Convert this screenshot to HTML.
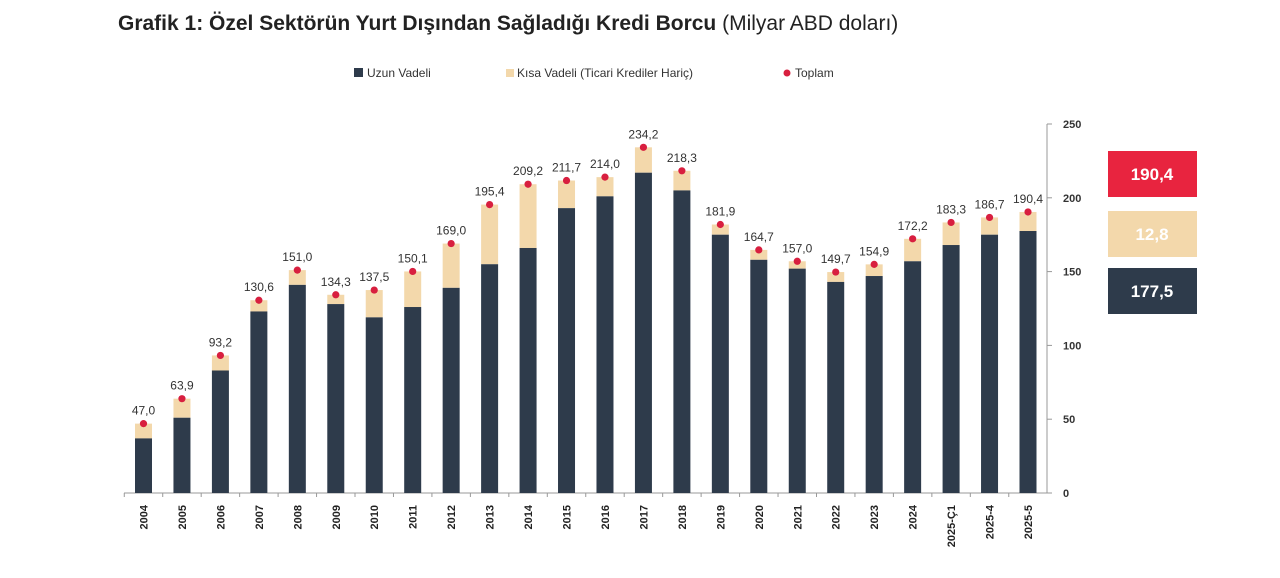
<!DOCTYPE html>
<html><head><meta charset="utf-8">
<style>
body{margin:0;background:#fff;width:1280px;height:578px;overflow:hidden;font-family:"Liberation Sans",sans-serif}
svg{position:absolute;left:0;top:0}
</style></head>
<body>
<svg width="1280" height="578" id="chart">
<text x="118" y="30" font-size="21" font-weight="bold" fill="#222">Grafik 1: Özel Sektörün Yurt Dışından Sağladığı Kredi Borcu <tspan font-weight="normal">(Milyar ABD doları)</tspan></text>
<g font-size="12" fill="#333">
<rect x="354" y="68" width="9" height="9" fill="#2e3b4b"/>
<text x="367" y="77">Uzun Vadeli</text>
<rect x="506" y="69" width="8" height="8" fill="#f3d8ab"/>
<text x="517" y="77">Kısa Vadeli (Ticari Krediler Hariç)</text>
<circle cx="787" cy="73" r="3.5" fill="#d81f3f"/>
<text x="795" y="77">Toplam</text>
</g>
<g id="plot"></g>
<g font-size="17" font-weight="bold" text-anchor="middle">
<rect x="1108" y="151" width="89" height="46" fill="#e8243f"/>
<text x="1152" y="180" fill="#fff">190,4</text>
<rect x="1108" y="211" width="89" height="46" fill="#f3d8ab"/>
<text x="1152" y="240" fill="#fff">12,8</text>
<rect x="1108" y="268" width="89" height="46" fill="#2e3b4b"/>
<text x="1152" y="297" fill="#fff">177,5</text>
</g>
</svg>
<script>
const categories=["2004","2005","2006","2007","2008","2009","2010","2011","2012","2013","2014","2015","2016","2017","2018","2019","2020","2021","2022","2023","2024","2025-Ç1","2025-4","2025-5"];
const longTerm=[37,51,83,123,141,128,119,126,139,155,166,193,201,217,205,175,158,152,143,147,157,168,175,177.5];
const totals=[47.0,63.9,93.2,130.6,151.0,134.3,137.5,150.1,169.0,195.4,209.2,211.7,214.0,234.2,218.3,181.9,164.7,157.0,149.7,154.9,172.2,183.3,186.7,190.4];
const yTicks=[0,50,100,150,200,250];
const NS="http://www.w3.org/2000/svg";
const g=document.getElementById('plot');
const y0=493,yTop=124,yMax=250;
const y=v=>y0-(v/yMax)*(y0-yTop);
const x0=143.5,step=(1028-143.5)/(categories.length-1);
const x=i=>x0+i*step;
const bw=17;
function mk(t,a){const e=document.createElementNS(NS,t);for(const k in a)e.setAttribute(k,a[k]);g.appendChild(e);return e;}
let e=mk('line',{x1:124,x2:1047,y1:y0,y2:y0,stroke:'#999','stroke-width':1});


e=mk('line',{x1:1047,x2:1047,y1:yTop,y2:y0,stroke:'#999','stroke-width':1});


yTicks.forEach(v=>{
 let t=mk('line',{x1:1047,x2:1052,y1:y(v),y2:y(v),stroke:'#999'});
 
 
 let l=mk('text',{x:1063,y:y(v)+4,'font-size':11,'font-weight':'bold',fill:'#333'});
 l.textContent=v;
 
 
});
categories.forEach((c,i)=>{
 const cx=x(i);
 let tk=mk('line',{x1:cx-step/2,x2:cx-step/2,y1:y0,y2:y0+4,stroke:'#999'});
 
 
 let s=mk('rect',{x:cx-bw/2,y:y(totals[i]),width:bw,height:y(longTerm[i])-y(totals[i]),fill:'#f3d8ab'});
 
 
 let b=mk('rect',{x:cx-bw/2,y:y(longTerm[i]),width:bw,height:y0-y(longTerm[i]),fill:'#2e3b4b'});
 
 
 let d=mk('circle',{cx:cx,cy:y(totals[i]),r:3.6,fill:'#d81f3f'});
 
 
 let vl=mk('text',{x:cx,y:y(totals[i])-9,'font-size':12,'text-anchor':'middle',fill:'#333'});
 vl.textContent=totals[i].toFixed(1).replace('.',',');
 
 
 let xl=mk('text',{transform:`translate(${cx+4},${y0+12}) rotate(-90)`,'font-size':11,'font-weight':'bold','text-anchor':'end',fill:'#222'});
 xl.textContent=c;
 
 
});
</script>
</body></html>
